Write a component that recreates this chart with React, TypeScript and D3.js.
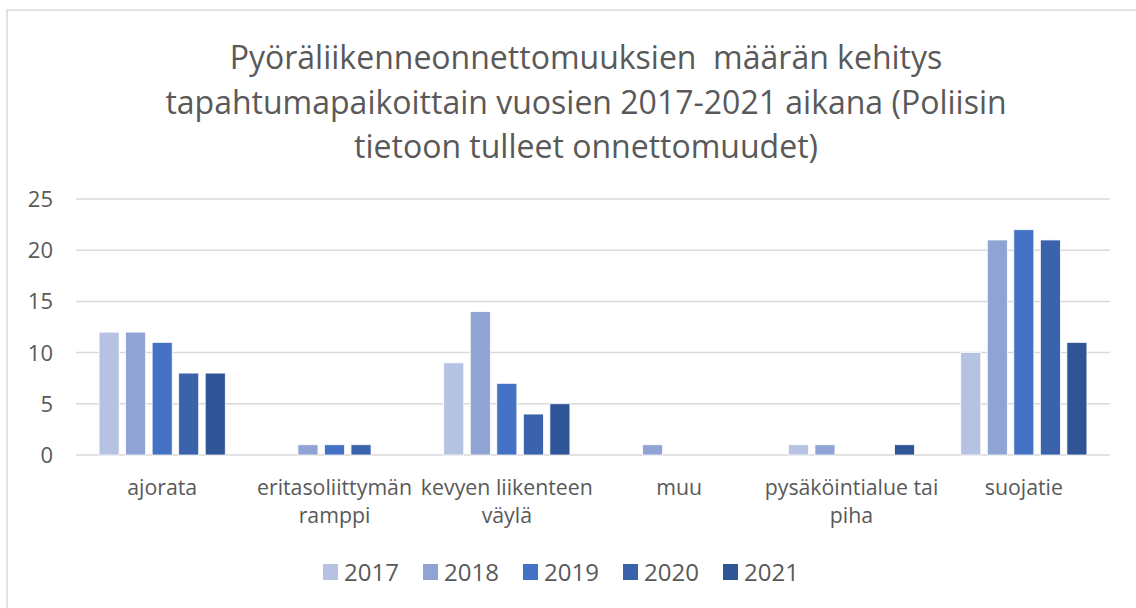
import React from 'react'
import { scaleBand, scaleLinear } from 'd3'

const categories = [
  ['ajorata'],
  ['eritasoliittymän', 'ramppi'],
  ['kevyen liikenteen', 'väylä'],
  ['muu'],
  ['pysäköintialue tai', 'piha'],
  ['suojatie'],
]
const years = ['2017', '2018', '2019', '2020', '2021']
const v2017 = [12, 0, 9, 0, 1, 10]
const v2018 = [12, 1, 14, 1, 1, 21]
const v2019 = [11, 1, 7, 0, 0, 22]
const v2020 = [8, 1, 4, 0, 0, 21]
const v2021 = [8, 0, 5, 0, 1, 11]
const yTicks = [0, 5, 10, 15, 20, 25]
const colors = ['#b6c2e2', '#8fa4d4', '#4472c4', '#3a63ab', '#2f5597']
const titleLines = [
  'Pyöräliikenneonnettomuuksien  määrän kehitys',
  'tapahtumapaikoittain vuosien 2017-2021 aikana (Poliisin',
  'tietoon tulleet onnettomuudet)',
]

const series = [v2017, v2018, v2019, v2020, v2021]
const font = '"Open Sans", sans-serif'
const textColor = '#595959'

export default function App() {
  const width = 1136
  const height = 608

  const x0 = scaleBand()
    .domain(categories.map((c, i) => String(i)))
    .range([76, 1110])
    .padding(0)
  const x1 = scaleBand()
    .domain(years)
    .range([0, x0.bandwidth()])
    .paddingInner(0.245)
    .paddingOuter(0.87)
  const y = scaleLinear().domain([0, 25]).range([455, 199])

  const legendX = scaleBand().domain(years).range([323, 823])

  return (
    <svg width={width} height={height} style={{ position: 'absolute', left: 0, top: 0, background: '#fff' }}>
      <rect x={7} y={10} width={1140} height={610} fill="#fff" stroke="#d9d9d9" strokeWidth={1.5} />

      {titleLines.map((t, i) => (
        <text key={i} x={586} y={69 + i * 44.5} textAnchor="middle"
          style={{ fontFamily: font, fontSize: 32, fill: textColor, whiteSpace: 'pre' }}>
          {t}
        </text>
      ))}

      {yTicks.map(t => (
        <g key={t}>
          <line x1={76} x2={1110} y1={y(t)} y2={y(t)} stroke="#d9d9d9" strokeWidth={1.5} />
          <text x={53} y={y(t) + 8} textAnchor="end"
            style={{ fontFamily: font, fontSize: 22, fill: textColor }}>{t}</text>
        </g>
      ))}

      {categories.map((c, ci) => (
        <g key={ci} transform={`translate(${x0(String(ci))},0)`}>
          {years.map((yr, si) => {
            const v = series[si][ci]
            if (!v) return null
            return (
              <rect key={yr} x={x1(yr)} y={y(v)} width={x1.bandwidth()} height={y(0) - y(v)}
                fill={colors[si]} stroke="#ffffff" strokeWidth={0.75} />
            )
          })}
          {c.map((line, li) => (
            <text key={li} x={x0.bandwidth() / 2} y={495 + li * 28} textAnchor="middle"
              style={{ fontFamily: font, fontSize: 21.3, fill: textColor }}>{line}</text>
          ))}
        </g>
      ))}

      {years.map((yr, i) => (
        <g key={yr} transform={`translate(${legendX(yr)},0)`}>
          <rect x={0} y={564} width={15} height={16} fill={colors[i]} />
          <text x={21} y={581} style={{ fontFamily: font, fontSize: 24, fill: textColor }}>{yr}</text>
        </g>
      ))}
    </svg>
  )
}
